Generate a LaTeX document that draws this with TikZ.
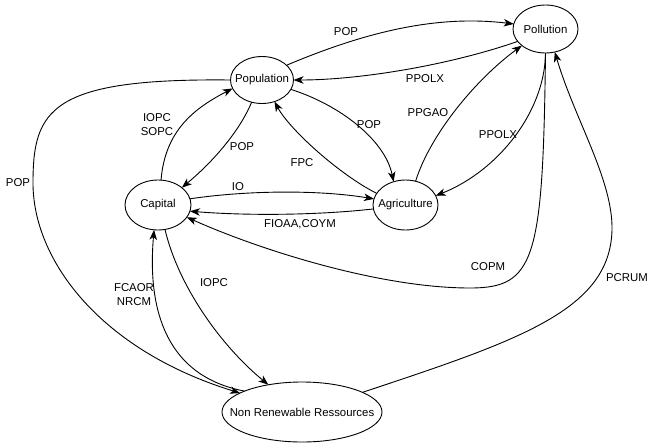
\documentclass[tikz,border=0pt]{standalone}
\usepackage{fontspec}
\setmainfont{Liberation Sans}
\usetikzlibrary{shapes.geometric,arrows.meta}
\begin{document}
\begin{tikzpicture}[x=1pt,y=-1pt,
  state/.style={ellipse,draw,line width=0.9pt,inner sep=0pt,outer sep=0pt,font=\fontsize{11.4}{14}\selectfont},
  link/.style={line width=0.9pt,-{Stealth[length=10pt,width=7.5pt,inset=2.8pt]}},
  lbl/.style={font=\fontsize{11.4}{14}\selectfont,inner sep=0pt,align=center}]
\useasboundingbox (0,0) rectangle (653,445);

\node[state,minimum width=63pt,minimum height=47pt] (pop) at (262,80) {\makebox[0pt]{Population}};
\node[state,minimum width=65pt,minimum height=48pt] (pol) at (545.5,29) {\makebox[0pt]{Pollution}};
\node[state,minimum width=66pt,minimum height=50pt] (cap) at (158,205) {\makebox[0pt]{Capital}};
\node[state,minimum width=65pt,minimum height=50pt] (agr) at (405.5,205) {\makebox[0pt]{Agriculture}};
\node[state,minimum width=160pt,minimum height=60pt] (nrr) at (302,412) {\makebox[0pt]{Non Renewable Ressources}};

% Population -> Pollution
\draw[link] (pop.31) .. controls (370,30) and (440,15) .. (pol.171);
\node[lbl] (l1) at (346,32) {POP};
% Pollution -> Population
\draw[link] (pol.204) .. controls (450,65) and (360,80) .. (pop.0);
\node[lbl] (l2) at (425,79) {PPOLX};
% Population -> Agriculture
\draw[link] (pop.-18) .. controls (340,105) and (385,140) .. (agr.117);
\node[lbl] (l3) at (369,125) {POP};
% Agriculture -> Population
\draw[link] (agr.158) .. controls (340,175) and (290,130) .. (pop.-60);
\node[lbl] (l4) at (302,163) {FPC};
% Agriculture -> Pollution
\draw[link] (agr.67) .. controls (430,135) and (475,80) .. (pol.-145);
\node[lbl] (l5) at (428,113) {PPGAO};
% Pollution -> Agriculture
\draw[link] (pol.270) .. controls (545,110) and (500,170) .. (agr.17);
\node[lbl] (l6) at (498,135) {PPOLX};
% Pollution -> Capital
\draw[link] (pol.270) .. controls (543,260) and (535,288) .. (470,288) .. controls (380,288) and (260,250) .. (cap.-23);
\node[lbl] (l7) at (488,267) {COPM};
% Capital -> Agriculture
\draw[link] (cap.11) .. controls (250,190) and (320,190) .. (agr.169);
\node[lbl] (l8) at (238,187) {IO};
% Agriculture -> Capital
\draw[link] (agr.187) .. controls (320,215) and (250,216) .. (cap.-11);
\node[lbl] (l9) at (300,224) {FIOAA,COYM};
% Population -> Capital
\draw[link] (pop.245) .. controls (240,130) and (215,160) .. (cap.36);
\node[lbl] (l10) at (242,147) {POP};
% Capital -> Population
\draw[link] (cap.83) .. controls (165,130) and (195,108) .. (pop.196);
\node[lbl] (l11) at (157,125) {IOPC\\SOPC};
% Population -> NRR
\draw[link] (pop.180) .. controls (50,78) and (33,110) .. (33,183) .. controls (33,260) and (100,350) .. (nrr.163);
\node[lbl] (l12) at (18,183) {POP};
% Capital -> NRR
\draw[link] (cap.-74) .. controls (178,285) and (220,345) .. (nrr.141);
\node[lbl] (l13) at (214,283) {IOPC};
% NRR -> Capital
\draw[link] (nrr.160) .. controls (160,375) and (148,300) .. (cap.261);
\node[lbl] (l14) at (134,295) {FCAOR\\NRCM};
% NRR -> Pollution
\draw[link] (nrr.18) .. controls (520,340) and (610,310) .. (612,230) .. controls (613,180) and (575,120) .. (pol.-68);
\node[lbl] (l15) at (627,278) {PCRUM};
\end{tikzpicture}
\end{document}
